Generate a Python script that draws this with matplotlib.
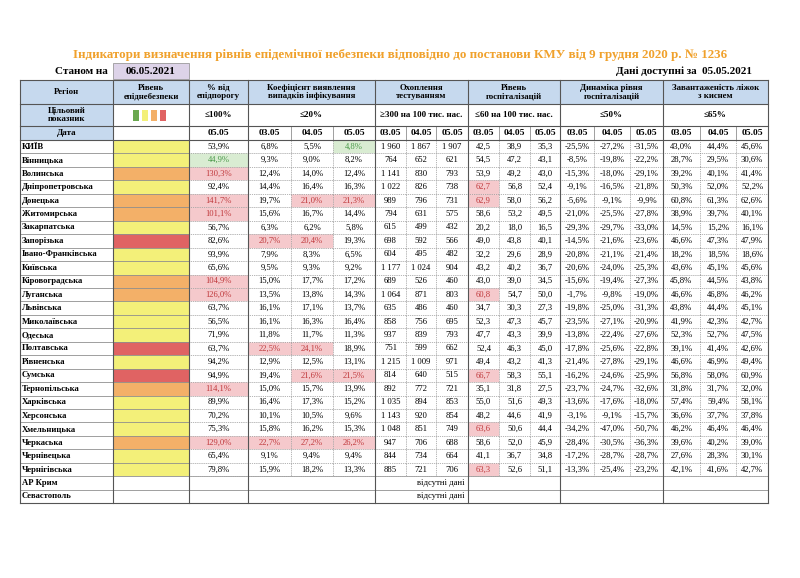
import matplotlib.pyplot as plt
from matplotlib.patches import Rectangle

plt.rcParams['font.family'] = ['Liberation Serif', 'DejaVu Serif']

regions = ['КИЇВ', 'Вінницька', 'Волинська', 'Дніпропетровська', 'Донецька', 'Житомирська',
           'Закарпатська', 'Запорізька', 'Івано-Франківська', 'Київська', 'Кіровоградська',
           'Луганська', 'Львівська', 'Миколаївська', 'Одеська', 'Полтавська', 'Рівненська',
           'Сумська', 'Тернопільська', 'Харківська', 'Херсонська', 'Хмельницька', 'Черкаська',
           'Чернівецька', 'Чернігівська']
levels = ['Y', 'Y', 'O', 'Y', 'O', 'O', 'Y', 'R', 'Y', 'Y', 'O', 'O', 'Y', 'Y', 'Y', 'R', 'Y',
          'R', 'O', 'Y', 'Y', 'Y', 'O', 'Y', 'Y']
pct = [53.9, 44.9, 130.3, 92.4, 141.7, 101.1, 56.7, 82.6, 93.9, 65.6, 104.9, 126.0, 63.7, 56.5,
       71.9, 63.7, 94.2, 94.9, 114.1, 89.9, 70.2, 75.3, 129.0, 65.4, 79.8]
coef = [[6.8, 5.5, 4.8], [9.3, 9.0, 8.2], [12.4, 14.0, 12.4], [14.4, 16.4, 16.3],
        [19.7, 21.0, 21.3], [15.6, 16.7, 14.4], [6.3, 6.2, 5.8], [20.7, 20.4, 19.3],
        [7.9, 8.3, 6.5], [9.5, 9.3, 9.2], [15.0, 17.7, 17.2], [13.5, 13.8, 14.3],
        [16.1, 17.1, 13.7], [16.1, 16.3, 16.4], [11.8, 11.7, 11.3], [22.5, 24.1, 18.9],
        [12.9, 12.5, 13.1], [19.4, 21.6, 21.5], [15.0, 15.7, 13.9], [16.4, 17.3, 15.2],
        [10.1, 10.5, 9.6], [15.8, 16.2, 15.3], [22.7, 27.2, 26.2], [9.1, 9.4, 9.4],
        [15.9, 18.2, 13.3]]
tests = [[1960, 1867, 1907], [764, 652, 621], [1141, 830, 793], [1022, 826, 738],
         [989, 796, 731], [794, 631, 575], [615, 499, 432], [698, 592, 566], [604, 495, 482],
         [1177, 1024, 904], [689, 526, 460], [1064, 871, 803], [635, 486, 460],
         [858, 756, 695], [937, 839, 793], [751, 599, 662], [1215, 1009, 971],
         [814, 640, 515], [892, 772, 721], [1035, 894, 853], [1143, 920, 854],
         [1048, 851, 749], [947, 706, 688], [844, 734, 664], [885, 721, 706]]
hosp = [[42.5, 38.9, 35.3], [54.5, 47.2, 43.1], [53.9, 49.2, 43.0], [62.7, 56.8, 52.4],
        [62.9, 58.0, 56.2], [58.6, 53.2, 49.5], [20.2, 18.0, 16.5], [49.0, 43.8, 40.1],
        [32.2, 29.6, 28.9], [43.2, 40.2, 36.7], [43.0, 39.0, 34.5], [60.8, 54.7, 50.0],
        [34.7, 30.3, 27.3], [52.3, 47.3, 45.7], [47.7, 43.3, 39.9], [52.4, 46.3, 45.0],
        [49.4, 43.2, 41.3], [66.7, 58.3, 55.1], [35.1, 31.8, 27.5], [55.0, 51.6, 49.3],
        [48.2, 44.6, 41.9], [63.6, 50.6, 44.4], [58.6, 52.0, 45.9], [41.1, 36.7, 34.8],
        [63.3, 52.6, 51.1]]
dyn = [[-25.5, -27.2, -31.5], [-8.5, -19.8, -22.2], [-15.3, -18.0, -29.1], [-9.1, -16.5, -21.8],
       [-5.6, -9.1, -9.9], [-21.0, -25.5, -27.8], [-29.3, -29.7, -33.0], [-14.5, -21.6, -23.6],
       [-20.8, -21.1, -21.4], [-20.6, -24.0, -25.3], [-15.6, -19.4, -27.3], [-1.7, -9.8, -19.0],
       [-19.8, -25.0, -31.3], [-23.5, -27.1, -20.9], [-13.8, -22.4, -27.6], [-17.8, -25.6, -22.8],
       [-21.4, -27.8, -29.1], [-16.2, -24.6, -25.9], [-23.7, -24.7, -32.6], [-13.6, -17.6, -18.0],
       [-3.1, -9.1, -15.7], [-34.2, -47.0, -50.7], [-28.4, -30.5, -36.3], [-17.2, -28.7, -28.7],
       [-13.3, -25.4, -23.2]]
beds = [[43.0, 44.4, 45.6], [28.7, 29.5, 30.6], [39.2, 40.1, 41.4], [50.3, 52.0, 52.2],
        [60.8, 61.3, 62.6], [38.9, 39.7, 40.1], [14.5, 15.2, 16.1], [46.6, 47.3, 47.9],
        [18.2, 18.5, 18.6], [43.6, 45.1, 45.6], [45.8, 44.5, 43.8], [46.6, 46.8, 46.2],
        [43.8, 44.4, 45.1], [41.9, 42.3, 42.7], [52.3, 52.7, 47.5], [39.1, 41.4, 42.6],
        [46.6, 46.9, 49.4], [56.8, 58.0, 60.9], [31.8, 31.7, 32.0], [57.4, 59.4, 58.1],
        [36.6, 37.7, 37.8], [46.2, 46.4, 46.4], [39.6, 40.2, 39.0], [27.6, 28.3, 30.1],
        [42.1, 41.6, 42.7]]
green_cells = [(0, 3), (1, 0)]  # (row, col) shown in green
no_data = ['АР Крим', 'Севастополь']
dates = ['03.05', '04.05', '05.05']

lvl_col = {'Y': '#f3f079', 'O': '#f3b068', 'R': '#e06363'}
blue = '#c6d9ee'
pink = '#f5c9cc'
red_txt = '#c0393c'

xs = [20, 113, 189, 248, 291, 333, 375, 406, 436, 468, 499, 530, 560, 594, 630, 663, 700, 736, 768]
row_h = 13.45
y0 = 140

fig = plt.figure(figsize=(8, 5.78), dpi=100)
ax = fig.add_axes([0, 0, 1, 1])
ax.set_xlim(0, 800)
ax.set_ylim(578, 0)
ax.axis('off')

def cell(x1, x2, y1, y2, txt='', fc='white', color='black', bold=False, size=6.3, ls='-'):
    ax.add_patch(Rectangle((x1, y1), x2 - x1, y2 - y1, fc=fc, ec='#8a8a8a', lw=0.5, ls=ls))
    if txt:
        ax.text((x1 + x2) / 2, (y1 + y2) / 2, txt, ha='center', va='center', color=color,
                fontsize=size, fontweight='bold' if bold else 'normal', linespacing=1.1)

ax.text(400, 55, 'Індикатори визначення рівнів епідемічної небезпеки відповідно до постанови КМУ від 9 грудня 2020 р. № 1236',
        ha='center', va='center', color='#f0a12c', fontsize=9.4, fontweight='bold')
ax.text(108, 71, 'Станом на', ha='right', va='center', fontsize=8, fontweight='bold')
cell(113, 189, 63, 79, '06.05.2021', fc='#ddd3e8', bold=True, size=8)
ax.text(752, 71, 'Дані доступні за  05.05.2021', ha='right', va='center', fontsize=8, fontweight='bold')

# header row
h1, h2, h3 = 80, 104, 126
cell(xs[0], xs[1], h1, h2, 'Регіон', fc=blue, bold=True, size=6.3)
cell(xs[1], xs[2], h1, h2, 'Рівень\nепіднебезпеки', fc=blue, bold=True, size=6.3)
cell(xs[2], xs[3], h1, h2, '% від\nепідпорогу', fc=blue, bold=True, size=6.3)
groups = ['Коефіцієнт виявлення\nвипадків інфікування', 'Охоплення\nтестуванням',
          'Рівень\nгоспіталізацій', 'Динаміка рівня\nгоспіталізацій',
          'Завантаженість ліжок\nз киснем']
targets = ['≤20%', '≥300 на 100 тис. нас.', '≤60 на 100 тис. нас.', '≤50%', '≤65%']
for g in range(5):
    a, b = xs[3 + 3 * g], xs[6 + 3 * g]
    cell(a, b, h1, h2, groups[g], fc=blue, bold=True, size=6.3)
    cell(a, b, h2, h3, targets[g], bold=True, size=6.5)
    for k in range(3):
        cell(xs[3 + 3 * g + k], xs[4 + 3 * g + k], h3, y0, dates[k], bold=True, size=6.8)
cell(xs[0], xs[1], h2, h3, 'Цільовий\nпоказник', fc=blue, bold=True, size=6.3)
cell(xs[1], xs[2], h2, h3)
for i, c in enumerate(['#6aa84f', '#f3f079', '#f3b068', '#e06363']):
    ax.add_patch(Rectangle((133 + i * 9, 110), 6, 11, fc=c, ec='none'))
cell(xs[2], xs[3], h2, h3, '≤100%', bold=True, size=6.5)
cell(xs[0], xs[1], h3, y0, 'Дата', fc=blue, bold=True, size=6.5)
cell(xs[1], xs[2], h3, y0)
cell(xs[2], xs[3], h3, y0, '05.05', bold=True, size=6.8)

def fmt(v, p=True):
    s = ('%.1f' % v).replace('.', ',')
    return s + '%' if p else s

def fmt_int(v):
    return '{:,}'.format(v).replace(',', ' ')

for r, name in enumerate(regions):
    y1, y2 = y0 + r * row_h, y0 + (r + 1) * row_h
    ax.add_patch(Rectangle((xs[0], y1), xs[1] - xs[0], row_h, fc='white', ec='#8a8a8a', lw=0.5))
    ax.text(xs[0] + 2, (y1 + y2) / 2, name, ha='left', va='center', fontsize=6.2, fontweight='bold')
    cell(xs[1], xs[2], y1, y2, fc=lvl_col[levels[r]])
    vals = [(fmt(pct[r]), pct[r] > 100)]
    vals += [(fmt(v), v > 20) for v in coef[r]]
    vals += [(fmt_int(v), False) for v in tests[r]]
    vals += [(fmt(v, False), v > 60) for v in hosp[r]]
    vals += [(fmt(v), v > 50) for v in dyn[r]]
    vals += [(fmt(v), v > 65) for v in beds[r]]
    for c, (t, bad) in enumerate(vals):
        fc, col = 'white', 'black'
        if bad:
            fc, col = pink, red_txt
        if (r, c) in green_cells:
            fc, col = '#d9ecd2', '#4a9a4a'
        cell(xs[2 + c], xs[3 + c], y1, y2, t, fc=fc, color=col, size=6.2, ls=':')

for k, name in enumerate(no_data):
    y1 = y0 + (len(regions) + k) * row_h
    ax.add_patch(Rectangle((xs[0], y1), xs[1] - xs[0], row_h, fc='white', ec='#8a8a8a', lw=0.5))
    ax.text(xs[0] + 2, y1 + row_h / 2, name, ha='left', va='center', fontsize=6.2, fontweight='bold')
    cell(xs[1], xs[-1], y1, y1 + row_h, 'відсутні дані', size=6.2)

# heavier separators
yb = y0 + (len(regions) + 2) * row_h
for x in [xs[0], xs[1], xs[2], xs[3], xs[6], xs[9], xs[12], xs[15], xs[18]]:
    ax.plot([x, x], [h1, yb], color='#555555', lw=0.8)
for y in [h1, h2, h3, y0, yb]:
    ax.plot([xs[0], xs[-1]], [y, y], color='#555555', lw=0.8)

fig.savefig('out.png', dpi=100)
